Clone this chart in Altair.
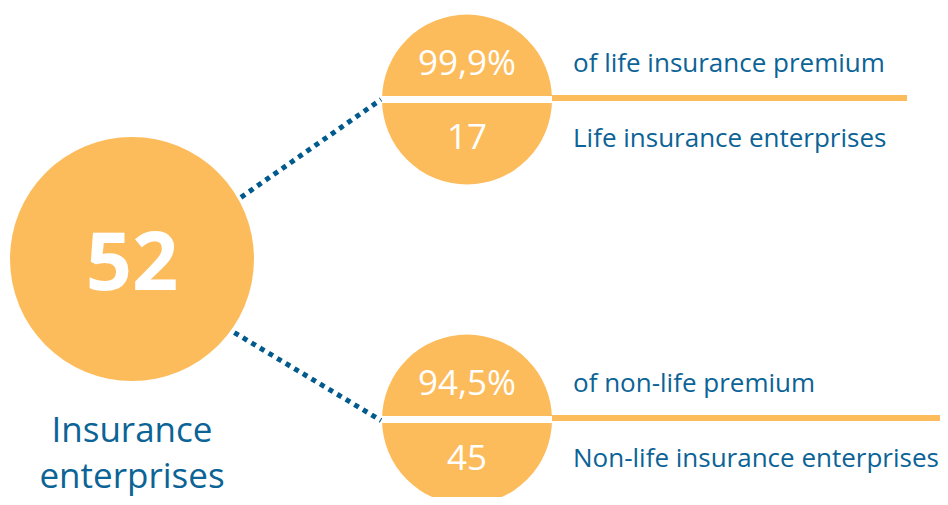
import altair as alt
import pandas as pd

# ---- data (content) ----
total_value = ["52"]
total_label = ["Insurance", "enterprises"]
shares = ["99,9%", "94,5%"]
share_labels = ["of life insurance premium", "of non-life premium"]
counts = ["17", "45"]
count_labels = ["Life insurance enterprises", "Non-life insurance enterprises"]

# ---- layout (page pixel coordinates) ----
W, H = 932, 489
ORANGE = "#fdbc5c"
BLUE = "#0b6396"
DOT = "#005b8c"
FONT = "Open Sans"

big_c = (132, 259, 122)
small_c = [(467, 99.5, 85), (467, 419.5, 85)]
band_y = [99.5, 419.5]
line_y = [98, 418]
line_x2 = [907, 948]
dot_lines = [((200, 226), (381, 99.5)), ((200, 312), (381, 420.5))]

xs = alt.Scale(domain=[8, 8 + W])
ys = alt.Scale(domain=[8, 8 + H], reverse=True)


def X(f="x"):
    return alt.X(f"{f}:Q", scale=xs, axis=None)


def Y(f="y"):
    return alt.Y(f"{f}:Q", scale=ys, axis=None)


# dotted connectors
dots_df = pd.DataFrame([
    {"x": a[0], "y": a[1], "x2": b[0], "y2": b[1]} for a, b in dot_lines
])
dots = alt.Chart(dots_df).mark_rule(
    color=DOT, strokeWidth=5, strokeDash=[5, 5], strokeCap="butt"
).encode(x=X(), y=Y(), x2="x2:Q", y2="y2:Q")

# orange horizontal lines
oline_df = pd.DataFrame({"x": [c[0] for c in small_c], "x2": line_x2, "y": line_y})
olines = alt.Chart(oline_df).mark_rule(color=ORANGE, strokeWidth=6).encode(
    x=X(), x2="x2:Q", y=Y()
)

# circles (Vega symbol size = area of bounding square = (2r)^2)
circ_df = pd.DataFrame([
    {"x": big_c[0], "y": big_c[1], "s": (2 * big_c[2]) ** 2},
] + [{"x": c[0], "y": c[1], "s": (2 * c[2]) ** 2} for c in small_c])
circles = alt.Chart(circ_df).mark_circle(color=ORANGE, opacity=1).encode(
    x=X(), y=Y(), size=alt.Size("s:Q", scale=None, legend=None)
)

# white bands across small circles
band_df = pd.DataFrame({
    "x": [c[0] - c[2] for c in small_c],
    "x2": [c[0] + c[2] for c in small_c],
    "y": band_y,
})
bands = alt.Chart(band_df).mark_rule(color="white", strokeWidth=7).encode(
    x=X(), x2="x2:Q", y=Y()
)

# texts
big_txt = alt.Chart(pd.DataFrame({"t": total_value, "x": [132], "y": [290]})).mark_text(
    font=FONT, fontSize=81, fontWeight="bold", color="white", baseline="alphabetic", align="center"
).encode(x=X(), y=Y(), text="t:N")

main_lbl = alt.Chart(pd.DataFrame({"t": total_label, "x": [132, 132], "y": [442, 488]})).mark_text(
    font=FONT, fontSize=35, color=BLUE, baseline="alphabetic", align="center"
).encode(x=X(), y=Y(), text="t:N")

in_df = pd.DataFrame({
    "t": [shares[0], counts[0], shares[1], counts[1]],
    "x": [467] * 4,
    "y": [75, 149, 395, 470],
})
in_txt = alt.Chart(in_df).mark_text(
    font=FONT, fontSize=35, color="white", baseline="alphabetic", align="center"
).encode(x=X(), y=Y(), text="t:N")

side_df = pd.DataFrame({
    "t": [share_labels[0], count_labels[0], share_labels[1], count_labels[1]],
    "x": [573] * 4,
    "y": [72, 147, 392, 467],
})
side_txt = alt.Chart(side_df).mark_text(
    font=FONT, fontSize=26, color=BLUE, baseline="alphabetic", align="left"
).encode(x=X(), y=Y(), text="t:N")

chart = alt.layer(
    dots, olines, circles, bands, big_txt, main_lbl, in_txt, side_txt
).properties(
    width=W, height=H, padding=0, autosize=alt.AutoSizeParams(type="none")
).configure_view(strokeWidth=0)

chart.save("out.html", embed_options={"renderer": "svg", "actions": False})
